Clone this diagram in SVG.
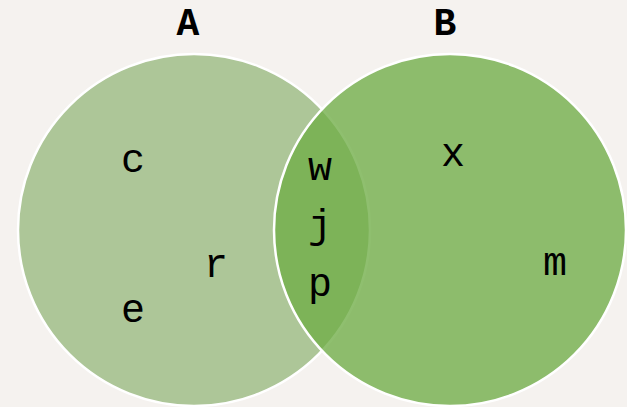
<svg xmlns="http://www.w3.org/2000/svg" width="627" height="407" viewBox="0 0 627 407">
  <style>
    .set { stroke: #ffffff; stroke-width: 2.5; }
    .title { font-family: "Liberation Mono", "Courier New", monospace; font-size: 38px; font-weight: bold; fill: #000; text-anchor: middle; }
    .item { font-family: "Liberation Mono", "Courier New", monospace; font-size: 40px; fill: #000; text-anchor: middle; }
  </style>
  <rect width="627" height="407" fill="#f5f2ef"/>
  <g id="set-A">
    <circle class="set" cx="194" cy="230" r="176" fill="#adc698"/>
    <text class="title" x="188" y="35">A</text>
  </g>
  <g id="set-B">
    <circle class="set" cx="450" cy="230" r="176" fill="#70ad47" fill-opacity="0.78"/>
    <text class="title" x="445" y="35">B</text>
  </g>
  <g id="only-A">
    <text class="item" x="133" y="172">c</text>
    <text class="item" x="216" y="277">r</text>
    <text class="item" x="133" y="322">e</text>
  </g>
  <g id="A-and-B">
    <text class="item" x="320" y="180">w</text>
    <text class="item" x="320" y="238">j</text>
    <text class="item" x="320" y="296">p</text>
  </g>
  <g id="only-B">
    <text class="item" x="453" y="166">x</text>
    <text class="item" x="555" y="275">m</text>
  </g>
</svg>
